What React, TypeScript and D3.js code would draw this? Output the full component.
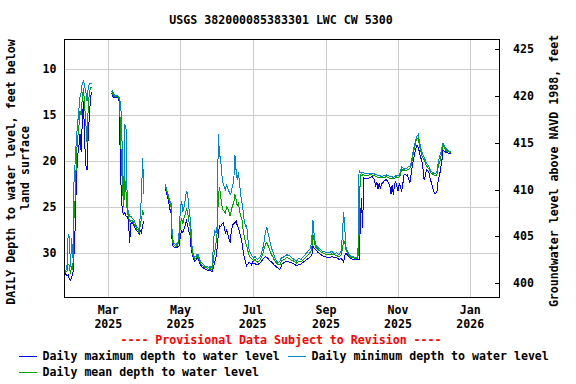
import React from "react";
import * as d3 from "d3";

// daily depth to water level, feet below land surface (2025, "MM-DD"); null marks a data gap
const dates = [
  "01-22", "01-23", "01-24", "01-25", "01-26", "01-27", "01-28", "01-29", "01-30", "01-31",
  "02-01", "02-02", "02-03", "02-04", "02-05", "02-06", "02-07", "02-08", "02-09", "02-10", "02-11", "02-12", "02-13", "02-14", "02-15", "02-25",
  "03-04", "03-05", "03-06", "03-07", "03-08", "03-09", "03-10", "03-11", "03-12", "03-13", "03-14", "03-15", "03-16", "03-17",
  "03-18", "03-19", "03-20", "03-21", "03-22", "03-23", "03-24", "03-25", "03-26", "03-27", "03-28", "03-29", "03-30", "03-31",
  "04-10", "04-18", "04-19", "04-20", "04-21", "04-22", "04-23", "04-24", "04-25", "04-26", "04-27", "04-28", "04-29", "04-30",
  "05-01", "05-02", "05-03", "05-04", "05-05", "05-06", "05-07", "05-08", "05-09", "05-10", "05-11", "05-12", "05-13", "05-14", "05-15", "05-16",
  "05-17", "05-18", "05-19", "05-20", "05-21", "05-22", "05-23", "05-24", "05-25", "05-26", "05-27", "05-28", "05-29", "05-30", "05-31",
  "06-01", "06-02", "06-03", "06-04", "06-05", "06-06", "06-07", "06-08", "06-09", "06-10", "06-11", "06-12", "06-13", "06-14", "06-15",
  "06-16", "06-17", "06-18", "06-19", "06-20", "06-21", "06-22", "06-23", "06-24", "06-25", "06-26", "06-27", "06-28", "06-29", "06-30",
  "07-01", "07-02", "07-03", "07-04", "07-05", "07-06", "07-07", "07-08", "07-09", "07-10", "07-11", "07-12", "07-13", "07-14",
  "07-15", "07-16", "07-17", "07-18", "07-19", "07-20", "07-21", "07-22", "07-23", "07-24", "07-25", "07-26", "07-28", "07-30",
  "08-01", "08-03", "08-05", "08-07", "08-09", "08-11", "08-13", "08-15", "08-17", "08-19", "08-20", "08-21", "08-22", "08-23", "08-25", "08-27", "08-29", "08-31",
  "09-02", "09-04", "09-06", "09-08", "09-10", "09-12", "09-14", "09-16", "09-17", "09-18", "09-20", "09-22", "09-24", "09-26", "09-28", "09-29", "09-30",
  "10-01", "10-02", "10-03", "10-04", "10-06", "10-08", "10-10", "10-12", "10-13", "10-14", "10-15", "10-16",
  "10-17", "10-18", "10-20", "10-22", "10-24", "10-25", "10-26", "10-27", "10-28", "10-29", "10-30", "10-31",
  "11-01", "11-02", "11-03", "11-04", "11-05", "11-06", "11-07", "11-08", "11-09", "11-10", "11-11", "11-12", "11-13", "11-14", "11-15",
  "11-16", "11-17", "11-18", "11-19", "11-20", "11-21", "11-22", "11-23", "11-24", "11-25", "11-26", "11-27", "11-28", "11-29", "11-30",
  "12-01", "12-02", "12-03", "12-04", "12-05", "12-06", "12-07", "12-08", "12-09", "12-10", "12-11", "12-12", "12-13", "12-14", "12-15", "12-16",
];

const maxDepth = [
  32.0, 32.2, 32.3, 32.5, 32.4, 32.9, 33.0, 32.6, 32.4, 30.0,
  27.0, 22.0, 19.5, 18.5, 17.0, 19.0, 15.5, 13.5, 18.0, 20.5, 21.0, 17.0, 15.0, 13.0, 12.5, null,
  12.6, 13.0, 13.1, 13.1, 13.1, 13.1, 13.4, 19.0, 24.0, 25.5, 25.8, 25.6, 26.0, 26.0,
  26.5, 28.9, 26.8, 26.7, 26.9, 27.2, 27.4, 27.6, 27.7, 28.0, 27.6, 27.8, 27.0, 26.5,
  null, 22.9, 23.3, 23.9, 24.5, 25.2, 25.7, 29.0, 29.3, 29.4, 29.4, 29.4, 29.3, 29.2,
  28.0, 27.6, 27.8, 27.4, 27.0, 26.5, 26.9, 27.6, 28.0, 29.5, 30.2, 30.6, 30.9, 30.8, 30.5, 30.7,
  31.0, 31.3, 31.5, 31.6, 31.7, 31.8, 31.8, 31.9, 31.9, 31.9, 32.0, 32.0, 31.5, 31.0, 30.5,
  29.5, 28.0, 27.0, 27.1, 26.9, 26.7, 27.2, 27.8, 27.5, 28.0, 28.5, 28.9, 27.6, 27.0, 26.8,
  26.7, 26.5, 27.0, 27.3, 27.8, 28.3, 28.9, 29.8, 30.5, 31.0, 31.4, 31.2, 31.0, 31.1, 31.3,
  31.0, 31.2, 31.1, 31.3, 31.3, 31.2, 31.1, 31.0, 30.8, 30.6, 30.5, 30.4, 30.5, 30.6,
  30.8, 30.9, 31.0, 31.1, 31.3, 31.4, 31.5, 31.6, 31.7, 31.8, 31.5, 31.2, 31.0, 30.9,
  31.0, 31.1, 31.2, 31.4, 31.3, 31.2, 31.0, 30.8, 30.6, 30.4, 30.3, 29.3, 29.5, 29.6, 29.9, 30.1, 30.3, 30.4,
  30.5, 30.5, 30.4, 30.5, 30.5, 30.7, 30.6, 31.0, 30.3, 30.0, 30.4, 30.6, 30.7, 30.7, 30.7, 30.7, 27.3,
  24.0, 27.3, 21.8, 21.9, 21.9, 21.8, 21.7, 22.0, 22.8, 22.3, 23.0, 22.4,
  23.0, 22.5, 22.2, 22.0, 22.4, 22.6, 23.6, 22.6, 23.7, 22.5, 22.2, 22.8,
  23.3, 22.4, 22.8, 23.3, 22.5, 21.5, 21.4, 21.6, 21.5, 22.0, 22.4, 21.5, 20.5, 19.8, 19.2,
  18.6, 18.3, 18.5, 19.0, 19.6, 19.9, 20.8, 22.0, 21.6, 20.9, 21.0, 21.2, 21.8, 22.3, 22.8,
  23.3, 23.5, 23.5, 23.2, 22.0, 21.6, 20.8, 20.0, 18.8, 18.9, 19.0, 19.1, 19.1, 19.2, 19.2, 19.2,
];

const minDepth = [
  31.8, 31.9, 32.0, 31.5, 28.0, 28.2, 31.5, 28.4, 30.5, 22.0,
  20.0, 17.5, 16.0, 14.5, 13.0, 12.5, 11.5, 11.3, 11.8, 12.5, 13.5, 12.0, 11.5, 11.5, 11.5, null,
  12.3, 12.5, 12.8, 12.9, 12.9, 12.9, 13.0, 13.5, 15.0, 20.0, 24.0, 16.0, 16.5, 25.0,
  25.5, 26.0, 26.0, 26.2, 26.3, 26.5, 26.9, 27.1, 27.3, 27.5, 26.0, 23.7, 19.7, 23.6,
  null, 22.5, 22.9, 23.4, 23.9, 24.3, 24.6, 28.0, 28.9, 29.0, 29.1, 29.0, 28.8, 27.5,
  25.0, 24.4, 25.5, 25.0, 24.2, 23.3, 23.5, 25.0, 26.0, 27.5, 29.8, 30.2, 30.5, 30.4, 30.1, 30.2,
  30.6, 30.9, 31.1, 31.2, 31.3, 31.5, 31.5, 31.5, 31.6, 31.5, 31.6, 31.4, 28.5, 27.6, 27.8,
  27.1, 17.1, 19.2, 19.9, 21.5, 22.4, 22.8, 23.1, 22.5, 23.0, 23.3, 23.6, 23.4, 22.6, 22.4,
  19.3, 21.0, 22.0, 21.2, 22.5, 23.8, 24.5, 25.5, 26.6, 27.1, 27.0, 28.5, 29.6, 30.0, 30.2,
  30.4, 30.6, 30.3, 30.6, 30.7, 30.6, 30.5, 30.3, 29.8, 29.3, 28.5, 27.6, 27.2, 27.8,
  28.3, 29.0, 29.5, 29.8, 30.2, 30.6, 30.8, 31.0, 31.0, 30.9, 30.6, 30.5, 30.4, 30.2,
  30.3, 30.5, 30.7, 30.9, 30.6, 30.7, 30.4, 30.1, 29.8, 29.5, 28.5, 26.4, 28.0, 29.0, 29.4, 29.6, 29.8, 29.9,
  30.0, 30.0, 29.8, 30.1, 30.0, 30.2, 29.8, 25.6, 27.5, 29.4, 30.0, 30.4, 30.4, 30.5, 30.5, 21.0, 21.2,
  21.3, 21.2, 21.3, 21.4, 21.4, 21.3, 21.3, 21.4, 21.5, 21.5, 21.6, 21.6,
  21.6, 21.7, 21.6, 21.5, 21.6, 21.7, 21.7, 21.7, 21.8, 21.7, 21.6, 21.5,
  21.6, 21.5, 21.2, 20.6, 20.7, 20.9, 20.8, 20.8, 20.7, 20.6, 20.6, 20.2, 19.5, 18.8, 18.2,
  17.6, 17.3, 17.1, 17.8, 18.5, 19.0, 19.3, 19.6, 19.9, 20.2, 20.4, 20.6, 20.9, 21.1, 21.2,
  21.3, 21.4, 21.3, 21.1, 20.1, 19.5, 19.2, 18.6, 18.0, 18.3, 18.6, 18.7, 18.8, 18.9, 19.0, 19.0,
];

const meanDepth = [
  31.9, 32.0, 32.1, 32.0, 31.2, 31.4, 32.3, 31.4, 31.8, 26.0,
  24.0, 19.5, 17.5, 16.5, 14.5, 15.0, 13.0, 12.0, 14.0, 16.0, 18.0, 14.0, 12.5, 12.0, 12.0, null,
  12.4, 12.8, 13.0, 13.0, 13.0, 13.0, 13.2, 15.5, 20.0, 23.0, 25.0, 22.0, 23.5, 25.5,
  26.0, 26.6, 26.5, 26.4, 26.6, 26.9, 27.1, 27.4, 27.5, 27.8, 27.0, 26.3, 25.5, 25.8,
  null, 22.7, 23.1, 23.6, 24.1, 24.5, 25.0, 28.6, 29.1, 29.2, 29.3, 29.2, 29.0, 28.5,
  26.8, 26.2, 26.8, 26.2, 25.8, 25.2, 25.5, 26.5, 27.0, 28.5, 30.0, 30.4, 30.7, 30.6, 30.3, 30.5,
  30.8, 31.1, 31.3, 31.4, 31.5, 31.6, 31.6, 31.7, 31.8, 31.7, 31.8, 31.7, 30.5, 29.8, 29.0,
  27.8, 24.0, 22.8, 23.9, 24.8, 25.3, 25.5, 25.7, 25.0, 25.2, 25.5, 26.0, 25.4, 24.8, 24.6,
  23.6, 24.2, 24.9, 24.5, 25.5, 26.0, 26.4, 27.5, 28.2, 28.9, 29.2, 29.8, 30.3, 30.5, 30.6,
  30.7, 30.9, 30.7, 30.9, 31.0, 30.9, 30.8, 30.6, 30.3, 29.9, 29.4, 29.0, 28.9, 29.2,
  29.5, 29.9, 30.2, 30.4, 30.7, 30.9, 31.1, 31.2, 31.3, 31.3, 31.0, 30.8, 30.7, 30.5,
  30.6, 30.8, 30.9, 31.1, 30.9, 31.0, 30.7, 30.5, 30.2, 29.9, 29.6, 28.0, 28.6, 29.3, 29.6, 29.8, 30.0, 30.1,
  30.2, 30.2, 30.1, 30.2, 30.3, 30.4, 30.2, 28.7, 28.9, 29.7, 30.2, 30.5, 30.5, 30.6, 30.6, 28.0, 21.5,
  21.6, 21.5, 21.5, 21.6, 21.6, 21.5, 21.5, 21.6, 21.7, 21.7, 21.8, 21.8,
  21.8, 21.8, 21.8, 21.7, 21.8, 21.9, 21.9, 21.9, 21.9, 21.9, 21.8, 21.7,
  21.8, 21.7, 21.5, 20.9, 21.0, 21.1, 21.0, 21.0, 20.9, 20.9, 20.8, 20.5, 19.8, 19.1, 18.5,
  17.9, 17.6, 17.5, 18.2, 18.8, 19.4, 19.6, 19.9, 20.2, 20.5, 20.7, 20.8, 21.1, 21.3, 21.4,
  21.5, 21.6, 21.6, 21.4, 20.6, 20.2, 19.7, 18.9, 18.2, 18.5, 18.8, 18.9, 18.9, 19.0, 19.1, 19.1,
];

const depthTicks = [10, 15, 20, 25, 30];
const elevTicks = [400, 405, 410, 415, 420, 425];
const legendLabels = [
  "Daily maximum depth to water level",
  "Daily minimum depth to water level",
  "Daily mean depth to water level",
];
const seriesColors = ["#0000ff", "#0087c8", "#00a000"];

const FONT = "'DejaVu Sans Mono', monospace";
const plot = { left: 64, right: 499, top: 39, bottom: 297 };

export default function App() {
  const parse = d3.utcParse("%Y-%m-%d");
  const days = dates.map((s) => parse("2025-" + s) as Date);

  const x = d3
    .scaleUtc()
    .domain([new Date(Date.UTC(2025, 0, 22, 12)), new Date(Date.UTC(2026, 0, 25, 8))])
    .range([plot.left, plot.right]);
  const y = d3.scaleLinear().domain([6.7, 34.8]).range([plot.top, plot.bottom]);
  const yElev = d3.scaleLinear().domain([426.1, 398.5]).range([plot.top, plot.bottom]);

  const monthTicks = x.ticks(d3.utcMonth.every(2) as d3.TimeInterval);
  const fmtMonth = d3.utcFormat("%b");
  const fmtYear = d3.utcFormat("%Y");

  const line = d3
    .line<number | null>()
    .defined((v) => v != null)
    .x((_, i) => x(days[i]))
    .y((v) => y(v as number));

  const series = [maxDepth, minDepth, meanDepth];

  const textStyle = { fontFamily: FONT, fontWeight: "bold" as const, fontSize: 11.6 };

  return (
    <svg
      width={576}
      height={384}
      style={{ position: "absolute", left: 0, top: 0, background: "#fff" }}
    >
      <defs>
        <clipPath id="plotClip">
          <rect x={plot.left} y={plot.top} width={plot.right - plot.left} height={plot.bottom - plot.top} />
        </clipPath>
      </defs>

      <text x={281} y={24} textAnchor="middle" {...textStyle}>
        USGS 382000085383301 LWC CW 5300
      </text>

      {/* grid */}
      <g stroke="#cccccc" strokeWidth={1} shapeRendering="crispEdges">
        {depthTicks.map((t) => (
          <line key={"h" + t} x1={plot.left} x2={plot.right} y1={Math.round(y(t)) + 0.5} y2={Math.round(y(t)) + 0.5} />
        ))}
        {monthTicks.map((d) => (
          <line key={"v" + d.getTime()} x1={Math.round(x(d)) + 0.5} x2={Math.round(x(d)) + 0.5} y1={plot.top} y2={plot.bottom} />
        ))}
      </g>

      {/* data */}
      <g clipPath="url(#plotClip)" fill="none" strokeWidth={1} shapeRendering="crispEdges">
        {series.map((vals, i) => (
          <path key={i} d={line(vals) || ""} stroke={seriesColors[i]} />
        ))}
      </g>

      {/* frame */}
      <rect
        x={plot.left + 0.5}
        y={plot.top + 0.5}
        width={plot.right - plot.left}
        height={plot.bottom - plot.top}
        fill="none"
        stroke="#000"
        strokeWidth={1}
        shapeRendering="crispEdges"
      />

      {/* left axis labels */}
      {depthTicks.map((t) => (
        <text key={"l" + t} x={56.5} y={y(t) + 4} textAnchor="end" {...textStyle}>
          {t}
        </text>
      ))}

      {/* right axis ticks and labels */}
      {elevTicks.map((t) => (
        <g key={"r" + t}>
          <line
            x1={plot.right - 4}
            x2={plot.right}
            y1={Math.round(yElev(t)) + 0.5}
            y2={Math.round(yElev(t)) + 0.5}
            stroke="#000"
            shapeRendering="crispEdges"
          />
          <text x={513} y={yElev(t) + 4} {...textStyle}>
            {t}
          </text>
        </g>
      ))}

      {/* month labels */}
      {monthTicks.map((d) => (
        <g key={"m" + d.getTime()}>
          <text x={x(d)} y={314} textAnchor="middle" {...textStyle}>
            {fmtMonth(d)}
          </text>
          <text x={x(d)} y={328} textAnchor="middle" {...textStyle}>
            {fmtYear(d)}
          </text>
        </g>
      ))}

      {/* axis titles */}
      <text transform="translate(14.5,172) rotate(-90)" textAnchor="middle" {...textStyle}>
        DAILY Depth to water level, feet below
      </text>
      <text transform="translate(28.5,168) rotate(-90)" textAnchor="middle" {...textStyle}>
        land surface
      </text>
      <text transform="translate(558,171) rotate(-90)" textAnchor="middle" {...textStyle}>
        Groundwater level above NAVD 1988, feet
      </text>

      <text x={281} y={344} textAnchor="middle" fill="#ff0000" {...textStyle}>
        ---- Provisional Data Subject to Revision ----
      </text>

      {/* legend */}
      {legendLabels.map((label, i) => {
        const lx = i === 1 ? 288 : 19;
        const ly = i === 2 ? 372 : 356;
        return (
          <g key={label}>
            <line x1={lx} x2={lx + 18} y1={ly + 0.5} y2={ly + 0.5} stroke={seriesColors[i]} shapeRendering="crispEdges" />
            <text x={lx + 23.5} y={ly + 4} {...textStyle}>
              {label}
            </text>
          </g>
        );
      })}
    </svg>
  );
}
